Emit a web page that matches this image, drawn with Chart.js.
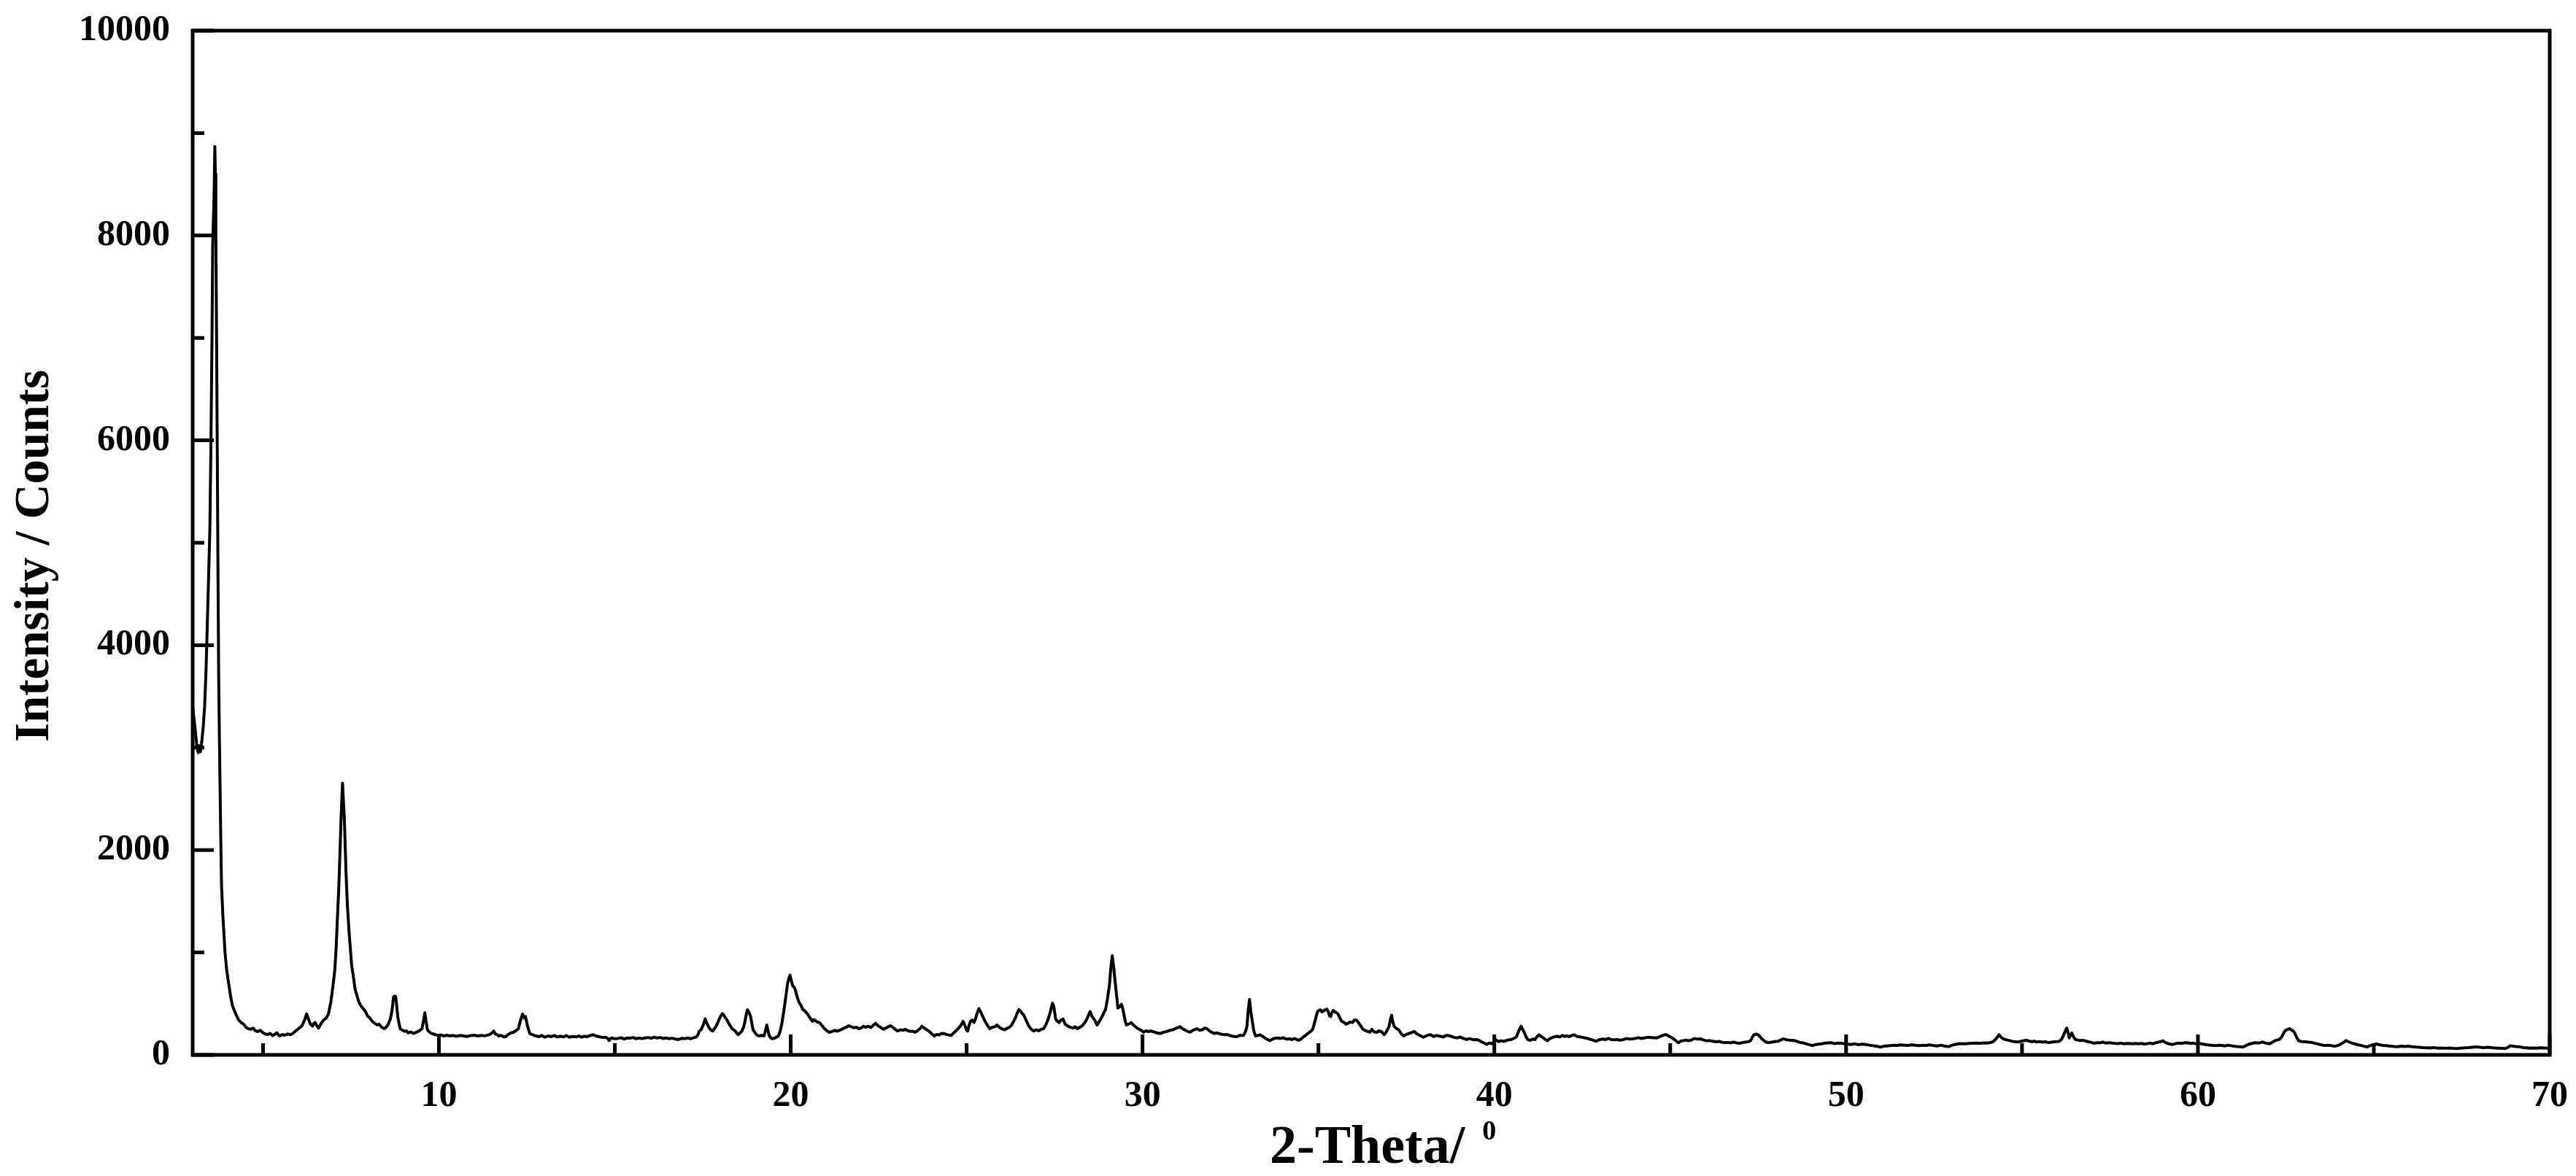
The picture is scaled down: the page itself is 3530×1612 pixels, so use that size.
<!DOCTYPE html>
<html>
<head>
<meta charset="utf-8">
<script src="https://cdn.jsdelivr.net/npm/chart.js@4.4.1/dist/chart.umd.min.js"></script>
<style>
  html, body { margin: 0; padding: 0; background: #ffffff; }
  #c { display: block; }
</style>
</head>
<body>
<canvas id="c" width="3530" height="1612"></canvas>
<script>
// ---------------- DATA ----------------
const twoTheta = [
3.00,3.04,3.08,3.12,3.16,3.19,3.22,3.26,3.30,3.34,3.38,3.42,3.46,3.49,3.52,3.55,3.57,3.59,3.61,3.63,3.645,3.66,3.68,3.70,3.72,3.74,3.76,3.78,3.80,3.82,3.86,3.92,3.97,
4.02,4.08,4.13,4.20,4.30,4.38,4.45,4.52,4.58,4.65,4.72,4.78,4.85,4.92,5.00,5.06,5.13,5.20,5.27,5.33,5.40,5.45,5.48,5.55,5.62,5.70,5.78,5.85,5.89,5.95,
6.03,6.10,6.17,6.24,6.30,6.35,6.41,6.45,6.48,6.53,6.58,6.64,6.72,6.80,6.86,6.93,6.98,7.04,7.08,7.11,7.15,7.18,7.22,7.26,7.29,7.31,7.34,7.36,7.40,7.45,
7.52,7.57,7.62,7.67,7.72,7.78,7.86,7.92,7.97,8.03,8.10,8.17,8.24,8.30,8.37,8.45,8.50,8.56,8.62,8.67,8.71,8.75,8.77,8.80,8.83,8.87,8.90,8.97,
9.03,9.07,9.13,9.20,9.28,9.35,9.42,9.48,9.52,9.56,9.60,9.63,9.67,9.70,9.78,9.84,9.90,9.98,10.06,10.14,10.22,10.32,10.40,10.50,10.60,10.70,10.80,10.90,
11.00,11.10,11.20,11.30,11.40,11.48,11.56,11.60,11.65,11.70,11.77,11.85,11.91,11.97,12.05,12.12,12.18,12.26,12.32,12.38,12.42,12.46,12.52,12.58,12.63,12.67,12.75,12.85,12.92,
13.01,13.10,13.20,13.28,13.36,13.45,13.55,13.62,13.70,13.80,13.90,13.98,14.05,14.14,14.22,14.30,14.39,14.46,14.55,14.65,14.74,14.80,14.84,14.90,
15.00,15.09,15.18,15.26,15.35,15.43,15.52,15.60,15.70,15.78,15.86,15.95,16.04,16.12,16.20,16.30,16.38,16.47,16.55,16.63,16.72,16.81,16.90,16.98,
17.06,17.16,17.25,17.32,17.37,17.40,17.45,17.50,17.54,17.57,17.60,17.64,17.70,17.74,17.78,17.84,17.88,17.92,17.98,18.03,18.06,18.10,18.15,18.19,18.25,18.29,18.33,18.40,18.46,18.51,18.56,18.61,18.66,18.70,18.74,18.77,18.81,18.86,18.90,18.93,
19.00,19.05,19.10,19.17,19.24,19.28,19.32,19.36,19.39,19.44,19.48,19.55,19.60,19.65,19.70,19.75,19.80,19.86,19.91,19.95,19.98,20.02,20.06,20.10,20.13,20.18,20.23,20.28,20.34,20.40,20.48,20.55,20.62,20.65,20.70,20.76,20.82,20.89,20.96,
21.03,21.10,21.17,21.25,21.30,21.37,21.45,21.52,21.58,21.65,21.72,21.80,21.87,21.93,22.00,22.07,22.13,22.20,22.28,22.35,22.41,22.48,22.55,22.63,22.70,22.77,22.83,22.90,22.97,
23.04,23.12,23.20,23.26,23.32,23.40,23.47,23.53,23.60,23.67,23.73,23.80,23.87,23.94,24.01,24.08,24.15,24.22,24.28,24.35,24.42,24.49,24.56,24.62,24.70,24.77,24.84,24.90,24.95,
25.00,25.03,25.07,25.11,25.16,25.21,25.26,25.30,25.35,25.40,25.46,25.52,25.59,25.66,25.73,25.80,25.87,25.93,26.00,26.08,26.15,26.22,26.28,26.34,26.39,26.44,26.49,26.54,26.59,26.63,26.70,26.77,26.84,26.91,26.98,
27.05,27.12,27.19,27.26,27.32,27.38,27.44,27.48,27.53,27.58,27.63,27.68,27.74,27.80,27.88,27.95,28.02,28.08,28.15,28.22,28.30,28.36,28.42,28.48,28.51,28.56,28.64,28.71,28.78,28.85,28.90,28.95,
29.00,29.06,29.10,29.14,29.18,29.23,29.27,29.30,29.35,29.40,29.44,29.47,29.51,29.54,29.60,29.68,29.75,29.82,29.90,29.97,
30.03,30.10,30.17,30.24,30.32,30.40,30.51,30.60,30.70,30.78,30.86,30.95,31.02,31.07,31.14,31.22,31.28,31.35,31.42,31.50,31.55,31.62,31.70,31.76,31.83,31.90,31.97,
32.04,32.12,32.20,32.31,32.40,32.50,32.59,32.68,32.76,32.87,32.93,32.97,33.00,33.04,33.08,33.11,33.16,33.21,33.28,33.34,33.42,33.50,33.56,33.62,33.70,33.76,33.83,33.92,
34.00,34.08,34.17,34.25,34.32,34.40,34.45,34.52,34.59,34.66,34.72,34.78,34.83,34.87,34.90,34.94,34.97,35.01,35.06,35.10,35.14,35.19,35.24,35.28,35.32,35.35,35.38,35.42,35.47,35.52,35.56,35.61,35.66,35.72,35.78,35.84,35.90,35.97,
36.02,36.08,36.13,36.19,36.25,36.32,36.39,36.46,36.52,36.58,36.66,36.72,36.80,36.87,36.93,36.97,37.01,37.05,37.08,37.11,37.15,37.20,37.28,37.35,37.42,37.50,37.58,37.65,37.73,37.80,37.88,37.98,
38.06,38.13,38.19,38.27,38.36,38.46,38.55,38.62,38.67,38.75,38.85,38.95,39.03,39.12,39.22,39.30,39.40,39.50,39.58,39.65,39.72,39.78,39.85,39.92,39.98,
40.05,40.12,40.19,40.28,40.38,40.47,40.55,40.60,40.64,40.70,40.76,40.80,40.85,40.90,40.95,41.02,41.10,41.16,41.22,41.27,41.33,41.40,41.45,41.51,41.58,41.65,41.72,41.79,41.86,41.94,
42.00,42.06,42.13,42.20,42.27,42.35,42.45,42.55,42.65,42.75,42.89,42.98,43.08,43.16,43.24,43.32,43.42,43.50,43.58,43.67,43.75,43.84,43.93,
44.02,44.10,44.18,44.27,44.36,44.45,44.54,44.62,44.70,44.78,44.84,44.89,44.94,45.00,45.03,45.10,45.17,45.24,45.30,45.38,45.45,45.52,45.60,45.68,45.76,45.86,45.95,
46.03,46.12,46.21,46.30,46.38,46.46,46.55,46.64,46.72,46.80,46.88,46.97,47.05,47.13,47.22,47.28,47.34,47.38,47.45,47.52,47.59,47.66,47.73,47.80,47.88,47.97,
48.07,48.14,48.21,48.28,48.36,48.45,48.49,48.56,48.64,48.70,48.76,48.85,48.95,49.04,49.12,49.22,49.31,49.40,49.50,49.59,49.67,49.76,49.87,49.95,
50.05,50.15,50.25,50.35,50.45,50.56,50.66,50.76,50.86,50.98,51.06,51.15,51.25,51.35,51.45,51.55,51.66,51.76,51.86,51.96,
52.08,52.18,52.28,52.38,52.50,52.60,52.70,52.80,52.92,53.02,53.10,53.19,53.30,53.40,53.50,53.61,53.70,53.80,53.90,
54.00,54.09,54.18,54.26,54.31,54.35,54.40,54.45,54.51,54.58,54.65,54.72,54.78,54.85,54.92,55.00,55.07,55.13,55.20,55.28,55.34,55.41,55.50,55.58,55.66,55.75,55.84,55.92,
56.00,56.06,56.12,56.17,56.22,56.27,56.31,56.34,56.38,56.41,56.46,56.51,56.58,56.65,56.72,56.79,56.86,56.93,57.00,57.06,57.14,57.22,57.30,57.38,57.48,57.56,57.65,57.73,57.81,57.89,57.98,
58.07,58.15,58.23,58.31,58.40,58.48,58.56,58.64,58.72,58.80,58.88,58.95,59.00,59.08,59.17,59.28,59.36,59.45,59.53,59.61,59.69,59.78,59.86,59.95,
60.03,60.11,60.20,60.28,60.36,60.44,60.52,60.60,60.68,60.77,60.85,60.94,61.02,61.10,61.19,61.28,61.36,61.45,61.54,61.63,61.72,61.84,61.93,
62.04,62.12,62.20,62.25,62.32,62.39,62.46,62.50,62.55,62.60,62.65,62.70,62.74,62.80,62.87,62.95,63.05,63.14,63.22,63.30,63.40,63.48,63.56,63.65,63.74,63.82,63.91,
64.00,64.08,64.15,64.21,64.27,64.35,64.46,64.55,64.64,64.72,64.80,64.88,64.98,65.08,65.17,65.26,65.35,65.42,65.49,65.58,65.68,65.78,65.88,65.98,
66.08,66.18,66.28,66.39,66.50,66.60,66.70,66.81,66.92,67.03,67.14,67.25,67.36,67.48,67.59,67.70,67.80,67.91,
68.01,68.12,68.22,68.33,68.43,68.54,68.64,68.74,68.82,68.88,68.95,69.03,69.10,69.16,69.24,69.33,69.43,69.53,69.63,69.73,69.83,69.92,70.00
];
const intensity = [
3400,3280,3150,3010,2950,3020,2960,3060,3200,3400,3750,4250,4750,5150,5980,7000,7900,8150,8400,8870,8600,8000,7000,5900,4700,3700,3100,2600,2100,1660,1350,1000,820,
705,570,480,420,345,315,300,268,256,250,262,236,228,240,215,205,199,210,188,200,215,190,185,200,192,205,198,210,222,240,
262,280,330,400,340,300,282,310,316,285,262,300,340,360,400,520,650,826,1050,1300,1600,1895,2322,2654,2450,2322,2000,1776,1450,1182,
876,760,636,580,520,480,447,420,380,363,330,310,292,300,270,256,270,300,350,440,565,575,570,480,375,300,256,240,
230,235,215,225,209,220,230,245,256,330,411,340,250,233,210,205,197,190,195,185,192,185,190,182,190,185,180,188,
192,185,190,186,195,205,233,205,200,185,190,175,180,200,215,221,235,256,340,399,360,375,280,210,200,197,185,178,190,
173,185,178,190,175,182,176,188,173,180,176,185,173,182,178,190,197,185,178,170,173,160,140,165,
158,161,168,155,165,163,170,158,165,159,166,170,162,173,165,170,160,165,158,163,155,150,162,158,
165,159,168,175,200,233,245,280,320,351,320,292,255,240,233,260,280,309,360,390,404,385,360,340,300,280,256,240,215,197,215,233,270,328,400,442,420,375,300,245,
210,192,185,190,185,230,292,230,185,165,157,165,175,185,230,309,420,565,696,750,779,720,672,660,636,570,518,490,446,430,399,360,328,345,335,320,316,285,256,
235,221,228,240,232,237,250,262,270,285,275,265,270,256,262,280,270,280,268,290,309,285,270,250,262,275,285,270,250,
233,245,240,250,237,230,232,221,235,255,280,260,245,228,205,185,200,195,210,209,200,195,190,210,237,260,290,328,290,
240,233,290,328,340,316,360,410,451,420,375,330,290,256,270,275,292,270,255,245,260,270,292,330,363,410,442,425,400,387,330,280,250,233,245,
235,250,256,300,351,420,506,470,351,330,316,340,351,300,280,270,262,275,256,270,290,316,350,400,423,380,340,292,330,375,410,446,
540,684,850,969,860,684,560,458,470,494,450,399,330,292,300,316,290,268,250,240,
221,235,228,233,225,215,209,222,230,240,245,260,268,275,255,240,230,221,238,250,256,240,245,262,256,235,220,
209,215,205,197,200,188,180,178,190,190,230,280,420,541,420,351,240,185,190,197,180,160,150,138,155,162,166,160,
168,155,157,150,160,148,143,160,180,197,215,230,245,290,328,380,420,434,440,420,428,440,446,420,380,375,410,434,420,410,399,360,328,320,300,309,320,316,
340,340,320,290,256,240,230,221,250,225,221,235,225,197,225,250,280,350,387,330,280,262,245,210,185,200,210,218,228,205,190,173,
185,195,197,180,190,182,175,188,190,185,172,166,175,160,150,160,148,150,140,125,115,102,115,110,124,
145,130,138,132,145,150,160,170,185,240,280,250,221,180,150,142,155,150,180,197,180,165,150,138,160,170,178,182,175,190,
180,185,178,190,197,180,175,168,160,150,133,148,155,150,162,150,148,150,143,150,160,155,157,
162,168,160,166,172,170,168,166,178,190,197,197,188,175,171,155,135,119,135,140,145,138,145,160,155,157,145,
138,140,133,128,132,125,119,122,118,125,118,114,120,125,128,138,175,197,204,190,162,140,125,119,125,130,
133,145,157,150,145,140,143,138,128,120,119,110,100,90,100,105,109,115,118,119,110,115,114,108,
105,102,108,100,105,102,95,90,85,76,85,88,90,95,92,98,95,92,98,94,
90,95,92,98,90,88,95,85,81,95,102,109,110,108,112,114,115,112,118,
115,119,130,157,180,197,175,160,152,145,140,132,130,126,128,135,140,143,135,128,135,126,130,125,128,119,125,128,
130,133,150,185,225,261,215,166,190,214,180,152,145,140,142,138,130,125,118,114,120,118,125,115,119,115,112,110,115,109,112,
110,108,112,109,112,105,110,115,109,118,125,130,138,120,108,102,110,115,112,118,119,112,115,108,
112,109,102,98,95,92,90,95,92,88,95,90,85,82,80,76,90,105,112,119,115,126,115,
109,125,140,145,152,180,228,240,250,256,245,235,221,175,136,130,128,125,123,115,108,100,95,92,95,88,85,
95,110,125,140,130,118,107,98,92,85,78,88,100,107,98,92,90,88,85,82,80,85,82,85,
80,76,74,71,70,68,72,66,68,65,68,64,62,66,70,72,75,78,
74,72,74,71,68,66,64,62,75,90,85,82,80,78,72,70,66,68,66,70,68,66,68
];

const xRange = [3, 70];
const yRange = [0, 10000];
const xMajorTicks = [10, 20, 30, 40, 50, 60, 70];
const xMinorTicks = [5, 15, 25, 35, 45, 55, 65];
const yMajorTicks = [0, 2000, 4000, 6000, 8000, 10000];
const yMinorTicks = [1000, 3000, 5000, 7000, 9000];
const xTitle = '2-Theta/';
const xTitleSup = '0';
const yTitle = 'Intensity / Counts';

// ---------------- STYLE ----------------
const FONT = "'Liberation Serif', 'Times New Roman', serif";
const INK = '#000000';

const points = twoTheta.map((t, i) => ({ x: t, y: intensity[i] }));

const framePlugin = {
  id: 'framePlugin',
  afterDraw(chart) {
    const { ctx, chartArea } = chart;
    const xs = chart.scales.x, ys = chart.scales.y;
    const L = chartArea.left, R = chartArea.right, T = chartArea.top, B = chartArea.bottom;
    ctx.save();
    ctx.strokeStyle = INK;
    ctx.lineCap = 'butt';
    // frame
    ctx.lineWidth = 5;
    ctx.lineJoin = 'miter';
    ctx.strokeRect(L, T, R - L, B - T);
    // inward ticks
    ctx.lineWidth = 5;
    ctx.beginPath();
    xMajorTicks.forEach(v => { const p = xs.getPixelForValue(v); ctx.moveTo(p, B); ctx.lineTo(p, B - 28); });
    xMinorTicks.forEach(v => { const p = xs.getPixelForValue(v); ctx.moveTo(p, B); ctx.lineTo(p, B - 16); });
    yMajorTicks.forEach(v => { const p = ys.getPixelForValue(v); ctx.moveTo(L, p); ctx.lineTo(L + 29, p); });
    yMinorTicks.forEach(v => { const p = ys.getPixelForValue(v); ctx.moveTo(L, p); ctx.lineTo(L + 16, p); });
    ctx.stroke();
    // x title with superscript
    ctx.fillStyle = INK;
    ctx.textBaseline = 'alphabetic';
    ctx.textAlign = 'left';
    const mainFont = 'bold 74px ' + FONT;
    const supFont = 'bold 38px ' + FONT;
    ctx.font = mainFont;
    const w1 = ctx.measureText(xTitle).width;
    const x0 = (L + R) / 2 - 139;
    ctx.fillText(xTitle, x0, 1594);
    ctx.font = supFont;
    ctx.fillText(xTitleSup, x0 + w1 + 24, 1562);
    // y title rotated
    ctx.save();
    ctx.translate(66, 762);
    ctx.rotate(-Math.PI / 2);
    ctx.font = 'bold 67px ' + FONT;
    ctx.textAlign = 'center';
    ctx.textBaseline = 'alphabetic';
    ctx.fillText(yTitle, 0, 0);
    ctx.restore();
    ctx.restore();
  }
};

new Chart(document.getElementById('c'), {
  type: 'line',
  data: {
    datasets: [{
      data: points,
      borderColor: INK,
      borderWidth: 4,
      pointRadius: 0,
      tension: 0,
      fill: false,
      borderJoinStyle: 'round'
    }]
  },
  options: {
    responsive: false,
    animation: false,
    devicePixelRatio: 1,
    layout: { padding: { top: 42, right: 36, left: 0, bottom: 0 } },
    plugins: { legend: { display: false }, tooltip: { enabled: false }, title: { display: false } },
    scales: {
      x: {
        type: 'linear',
        min: xRange[0],
        max: xRange[1],
        afterBuildTicks: s => { s.ticks = xMajorTicks.map(v => ({ value: v })); },
        afterFit: s => { s.height = 166; s.paddingLeft = 0; s.paddingRight = 0; },
        grid: { display: false, drawTicks: false, tickLength: 0 },
        border: { display: false },
        ticks: {
          padding: 27,
          color: INK,
          maxRotation: 0,
          autoSkip: false,
          font: { family: FONT, weight: 'bold', size: 50 },
          callback: v => String(v)
        }
      },
      y: {
        type: 'linear',
        min: yRange[0],
        max: yRange[1],
        afterBuildTicks: s => { s.ticks = yMajorTicks.map(v => ({ value: v })); },
        afterFit: s => { s.width = 264; s.paddingTop = 0; s.paddingBottom = 0; },
        grid: { display: false, drawTicks: false, tickLength: 0 },
        border: { display: false },
        ticks: {
          padding: 31,
          color: INK,
          autoSkip: false,
          font: { family: FONT, weight: 'bold', size: 50 },
          callback: v => String(v)
        }
      }
    }
  },
  plugins: [framePlugin]
});
</script>
</body>
</html>
